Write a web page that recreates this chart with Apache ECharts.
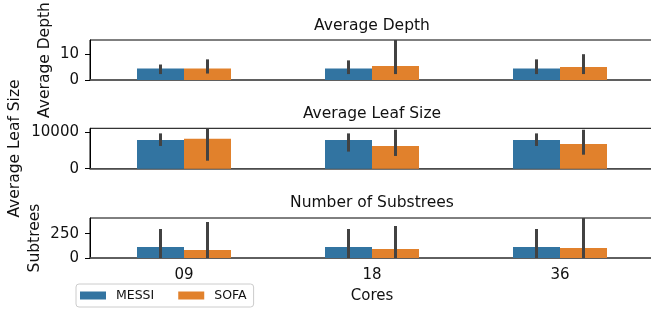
<!DOCTYPE html>
<html>
<head>
<meta charset="utf-8">
<script src="https://cdn.jsdelivr.net/npm/echarts@6/dist/echarts.min.js"></script>
<style>
  html, body { margin: 0; padding: 0; background: #fff; }
  #echarts { width: 651px; height: 309px; }
</style>
</head>
<body>
<div id="echarts"></div>
<script>
// data
var cores = ["09", "18", "36"];
var hues = ["MESSI", "SOFA"];

var depthMessi = [4.5, 4.5, 4.5];
var depthSofa = [4.5, 5.4, 5.0];
var depthMessiErr = [[2.3, 6.0], [2.3, 7.6], [2.3, 8.0]];
var depthSofaErr = [[2.5, 8.0], [2.3, 15.5], [2.3, 10.0]];

var leafMessi = [7900, 7900, 7900];
var leafSofa = [8250, 6250, 6800];
var leafMessiErr = [[6250, 9700], [4700, 9700], [6250, 9700]];
var leafSofaErr = [[2200, 11100], [3500, 10700], [3850, 10700]];

var subMessi = [113, 113, 113];
var subSofa = [82, 92, 103];
var subMessiErr = [[0, 298], [0, 298], [0, 298]];
var subSofaErr = [[0, 370], [0, 329], [0, 411]];

var yTicks = [[0, 10], [0, 10000], [0, 250]];
var yMax = [15.5, 11100, 411];
var yNames = ["Average Depth", "Average Leaf Size", "Subtrees"];
var titles = ["Average Depth", "Average Leaf Size", "Number of Substrees"];

var FONT = "DejaVu Sans";
var BLUE = "#3274a1";
var ORANGE = "#e1812c";
var ERR = "#424242";

var chartDom = document.getElementById("echarts");
var myChart = echarts.init(chartDom, null, { renderer: "canvas" });

var grids = [
  { left: 90, width: 564, top: 40, height: 40 },
  { left: 90, width: 564, top: 128.3, height: 40.4 },
  { left: 90, width: 564, top: 218, height: 40 },
];

function errRender(offset) {
  return function (params, api) {
    var x = api.value(0);
    var lo = api.coord([x, api.value(1)]);
    var hi = api.coord([x, api.value(2)]);
    var dx = offset * api.size([1, 0])[0];
    return {
      type: "line",
      shape: { x1: lo[0] + dx, y1: lo[1], x2: hi[0] + dx, y2: hi[1] },
      style: { stroke: ERR, lineWidth: 3 },
    };
  };
}

function errData(arr) {
  return arr.map(function (d, i) { return [i, d[0], d[1]]; });
}

var barSets = [
  [depthMessi, depthSofa, depthMessiErr, depthSofaErr],
  [leafMessi, leafSofa, leafMessiErr, leafSofaErr],
  [subMessi, subSofa, subMessiErr, subSofaErr],
];

var xAxes = [], yAxes = [], series = [], titleList = [];
var titleTops = [18, 106, 195];

for (var i = 0; i < 3; i++) {
  grids[i].show = true;
  grids[i].borderColor = "#000";
  grids[i].borderWidth = 1;
  grids[i].backgroundColor = "transparent";
  grids[i].outerBoundsMode = "none";
  grids[i].containLabel = false;

  xAxes.push({
    type: "category",
    gridIndex: i,
    data: cores,
    axisLine: { lineStyle: { color: "#555", width: 1.6 } },
    axisTick: { alignWithLabel: true, length: 5, lineStyle: { color: "#000" } },
    axisLabel: { show: i === 2, fontFamily: FONT, fontSize: 15, color: "#111", margin: 10 },
    name: i === 2 ? "Cores" : "",
    nameLocation: "middle",
    nameGap: 31,
    nameMoveOverlap: false,
    nameTextStyle: { fontFamily: FONT, fontSize: 15, color: "#111" },
    splitLine: { show: false },
  });

  yAxes.push({
    type: "value",
    gridIndex: i,
    min: 0,
    max: yMax[i],
    axisLine: { show: true, lineStyle: { color: "#000", width: 1 } },
    axisTick: { show: true, length: 5, customValues: yTicks[i], lineStyle: { color: "#000" } },
    axisLabel: {
      customValues: yTicks[i],
      formatter: function (v) { return String(v); },
      fontFamily: FONT, fontSize: 15, color: "#111", margin: 11,
    },
    splitLine: { show: false },
    name: yNames[i],
    nameLocation: "middle",
    nameRotate: 90,
    nameGap: [37, 67, 47][i],
    nameMoveOverlap: false,
    nameTextStyle: { fontFamily: FONT, fontSize: 15.5, color: "#111" },
  });

  titleList.push({
    text: titles[i],
    left: 372,
    textAlign: "center",
    top: titleTops[i],
    padding: 0,
    textStyle: { fontFamily: FONT, fontSize: 15.5, fontWeight: "normal", color: "#111" },
  });

  var s = barSets[i];
  series.push({
    name: hues[0], type: "bar", xAxisIndex: i, yAxisIndex: i,
    data: s[0], barWidth: 47, barGap: "0%",
    itemStyle: { color: BLUE }, silent: true,
  });
  series.push({
    name: hues[1], type: "bar", xAxisIndex: i, yAxisIndex: i,
    data: s[1], barWidth: 47, barGap: "0%",
    itemStyle: { color: ORANGE }, silent: true,
  });
  series.push({
    type: "custom", xAxisIndex: i, yAxisIndex: i, z: 5,
    renderItem: errRender(-0.125), data: errData(s[2]), silent: true,
  });
  series.push({
    type: "custom", xAxisIndex: i, yAxisIndex: i, z: 5,
    renderItem: errRender(0.125), data: errData(s[3]), silent: true,
  });
}

var option = {
  animation: false,
  title: titleList,
  grid: grids,
  xAxis: xAxes,
  yAxis: yAxes,
  legend: {
    data: hues,
    left: 76,
    top: 284,
    orient: "horizontal",
    itemWidth: 26,
    itemHeight: 8,
    itemGap: 24,
    padding: [5, 7, 5, 4],
    borderColor: "#cccccc",
    borderWidth: 1,
    borderRadius: 3,
    backgroundColor: "#fff",
    icon: "rect",
    textStyle: { fontFamily: FONT, fontSize: 12.5, color: "#111", padding: [0, 0, 0, 5] },
  },
  series: series,
};

option && myChart.setOption(option);
</script>
</body>
</html>
